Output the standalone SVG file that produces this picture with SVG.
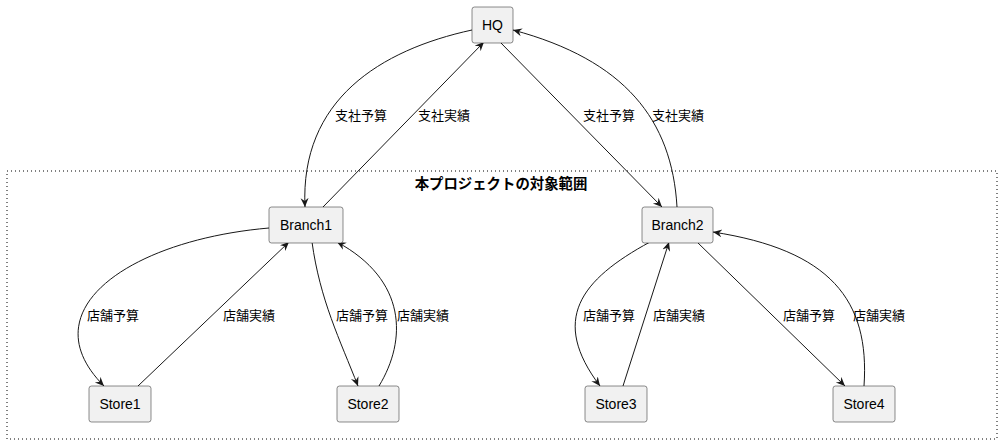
<svg xmlns="http://www.w3.org/2000/svg" width="1001" height="444" viewBox="0 0 1001 444">
<style>
.n{fill:#f1f1f1;stroke:#181818;stroke-width:0.5}
.t{font-family:"Liberation Sans","Noto Sans CJK JP",sans-serif;font-size:14px;fill:#000;text-anchor:middle}
.l{font-family:"Liberation Sans","Noto Sans CJK JP",sans-serif;font-size:13px;fill:#000}
.e{fill:none;stroke:#181818;stroke-width:1}
</style>
<defs>
<marker id="a" markerWidth="10" markerHeight="10" refX="9" refY="4" orient="auto" markerUnits="userSpaceOnUse">
<path d="M0,0 L9,4 L0,8 L3,4 Z" fill="#181818"/>
</marker>
</defs>
<rect x="7" y="171" width="990" height="268" fill="none" stroke="#000" stroke-width="1" stroke-dasharray="1,3"/>
<text x="501" y="189" class="t" style="font-weight:bold;font-size:14.4px">本プロジェクトの対象範囲</text>
<g id="connectors">
<path class="e" marker-end="url(#a)" d="M472,30 C380,50 300,100 305,207"/>
<path class="e" marker-end="url(#a)" d="M323,207 L484,42"/>
<path class="e" marker-end="url(#a)" d="M500,42 L662,207"/>
<path class="e" marker-end="url(#a)" d="M677,207 C672,120 625,60 513,30"/>
<path class="e" marker-end="url(#a)" d="M269,228 C130,240 28,310 104,386"/>
<path class="e" marker-end="url(#a)" d="M138,386 L289,242"/>
<path class="e" marker-end="url(#a)" d="M312,242 C320,300 340,340 358,386"/>
<path class="e" marker-end="url(#a)" d="M379,386 C407,340 407,280 337,242"/>
<path class="e" marker-end="url(#a)" d="M650,242 C580,280 550,320 600,386"/>
<path class="e" marker-end="url(#a)" d="M623,386 L669,242"/>
<path class="e" marker-end="url(#a)" d="M697,242 L845,386"/>
<path class="e" marker-end="url(#a)" d="M864,386 C870,300 830,250 713,232"/>
<text class="l" x="335" y="120">支社予算</text>
<text class="l" x="418" y="120">支社実績</text>
<text class="l" x="583" y="120">支社予算</text>
<text class="l" x="652" y="120">支社実績</text>
<text class="l" x="87" y="320">店舗予算</text>
<text class="l" x="223" y="320">店舗実績</text>
<text class="l" x="336" y="320">店舗予算</text>
<text class="l" x="397" y="320">店舗実績</text>
<text class="l" x="583" y="320">店舗予算</text>
<text class="l" x="653" y="320">店舗実績</text>
<text class="l" x="783" y="320">店舗予算</text>
<text class="l" x="853" y="320">店舗実績</text>
</g>
<g id="HQ"><rect class="n" x="472" y="7" width="41" height="36" rx="2.5"/><text class="t" x="492.5" y="30">HQ</text></g>
<g id="Branch1"><rect class="n" x="269" y="207" width="74" height="36" rx="2.5"/><text class="t" x="306" y="230">Branch1</text></g>
<g id="Branch2"><rect class="n" x="642" y="207" width="71" height="36" rx="2.5"/><text class="t" x="677.5" y="230">Branch2</text></g>
<g id="Store1"><rect class="n" x="89" y="386" width="62" height="36" rx="2.5"/><text class="t" x="120" y="409">Store1</text></g>
<g id="Store2"><rect class="n" x="337" y="386" width="62" height="36" rx="2.5"/><text class="t" x="368" y="409">Store2</text></g>
<g id="Store3"><rect class="n" x="585" y="386" width="62" height="36" rx="2.5"/><text class="t" x="616" y="409">Store3</text></g>
<g id="Store4"><rect class="n" x="833" y="386" width="62" height="36" rx="2.5"/><text class="t" x="864" y="409">Store4</text></g>
</svg>
